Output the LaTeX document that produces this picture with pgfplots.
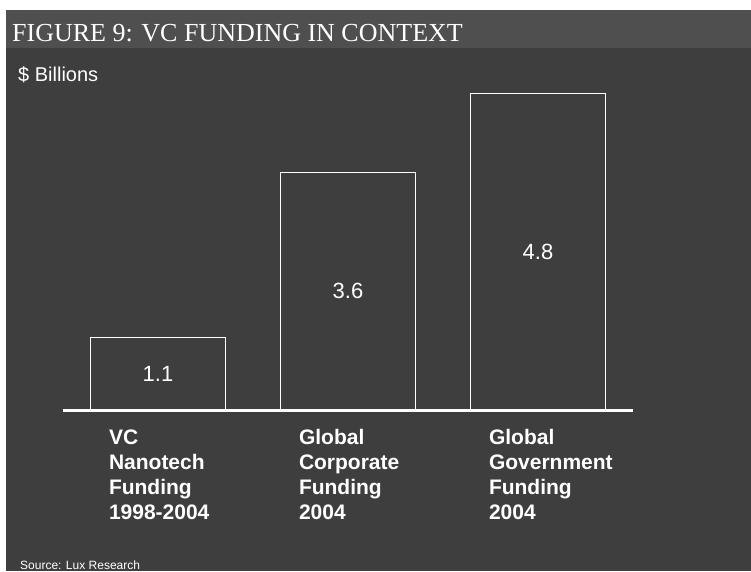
\documentclass[border=0pt]{standalone}
\usepackage{pgfplots}
\pgfplotsset{compat=1.18}
\usepackage{fontspec}
\setmainfont{Liberation Sans}
\newfontfamily\titlefont{Liberation Serif}
\definecolor{bg}{HTML}{3E3E3E}
\definecolor{band}{HTML}{4F4F4F}

\begin{document}
\begin{tikzpicture}[x=1pt,y=1pt]
% page frame: white edge, dark panel, lighter title band
\useasboundingbox (0,0) rectangle (751,571);
\fill[white] (0,0) rectangle (751,571);
\fill[bg] (6,0) rectangle (751,561);
\fill[band] (6,523) rectangle (751,561);
\node[anchor=base west, inner sep=0pt, text=white, font=\titlefont\fontsize{26}{30}\selectfont]
  at (12,529) {FIGURE 9: VC FUNDING IN CONTEXT};
\node[anchor=base west, inner sep=0pt, text=white, font=\fontsize{20}{24}\selectfont]
  at (18,489) {\$ Billions};
\node[anchor=base west, inner sep=0pt, text=white, font=\fontsize{12}{14}\selectfont]
  at (20,2) {Source: Lux Research};

\begin{axis}[
  at={(63pt,161pt)}, anchor=south west,
  scale only axis, width=570pt, height=329.5pt,
  xmin=-0.5, xmax=2.5, ymin=0, ymax=5,
  axis y line=none, axis x line=bottom,
  x axis line style={white, line width=3pt, -},
  xtick={0,1,2}, major tick length=0pt,
  xticklabels={VC\\Nanotech\\Funding\\\mbox{1998-2004},
               Global\\Corporate\\Funding\\2004,
               Global\\Government\\Funding\\2004},
  xticklabel style={text=white, text width=140pt, align=left,
    anchor=north, xshift=21pt, yshift=-16pt,
    font=\fontsize{21}{25}\selectfont\bfseries},
  ytick=\empty,
  /pgf/number format/assume math mode=true,
  clip=false,
]
\addplot[ybar, bar width=135pt, fill=bg, draw=white, line width=1.3pt,
  nodes near coords,
  visualization depends on={rawy \as \rawy},
  every node near coord/.append style={anchor=center, text=white,
    font=\fontsize{22}{26}\selectfont,
    shift={(axis direction cs:0,-\rawy/2)}},
] coordinates {(0,1.1) (1,3.6) (2,4.8)};
\end{axis}
\end{tikzpicture}
\end{document}
